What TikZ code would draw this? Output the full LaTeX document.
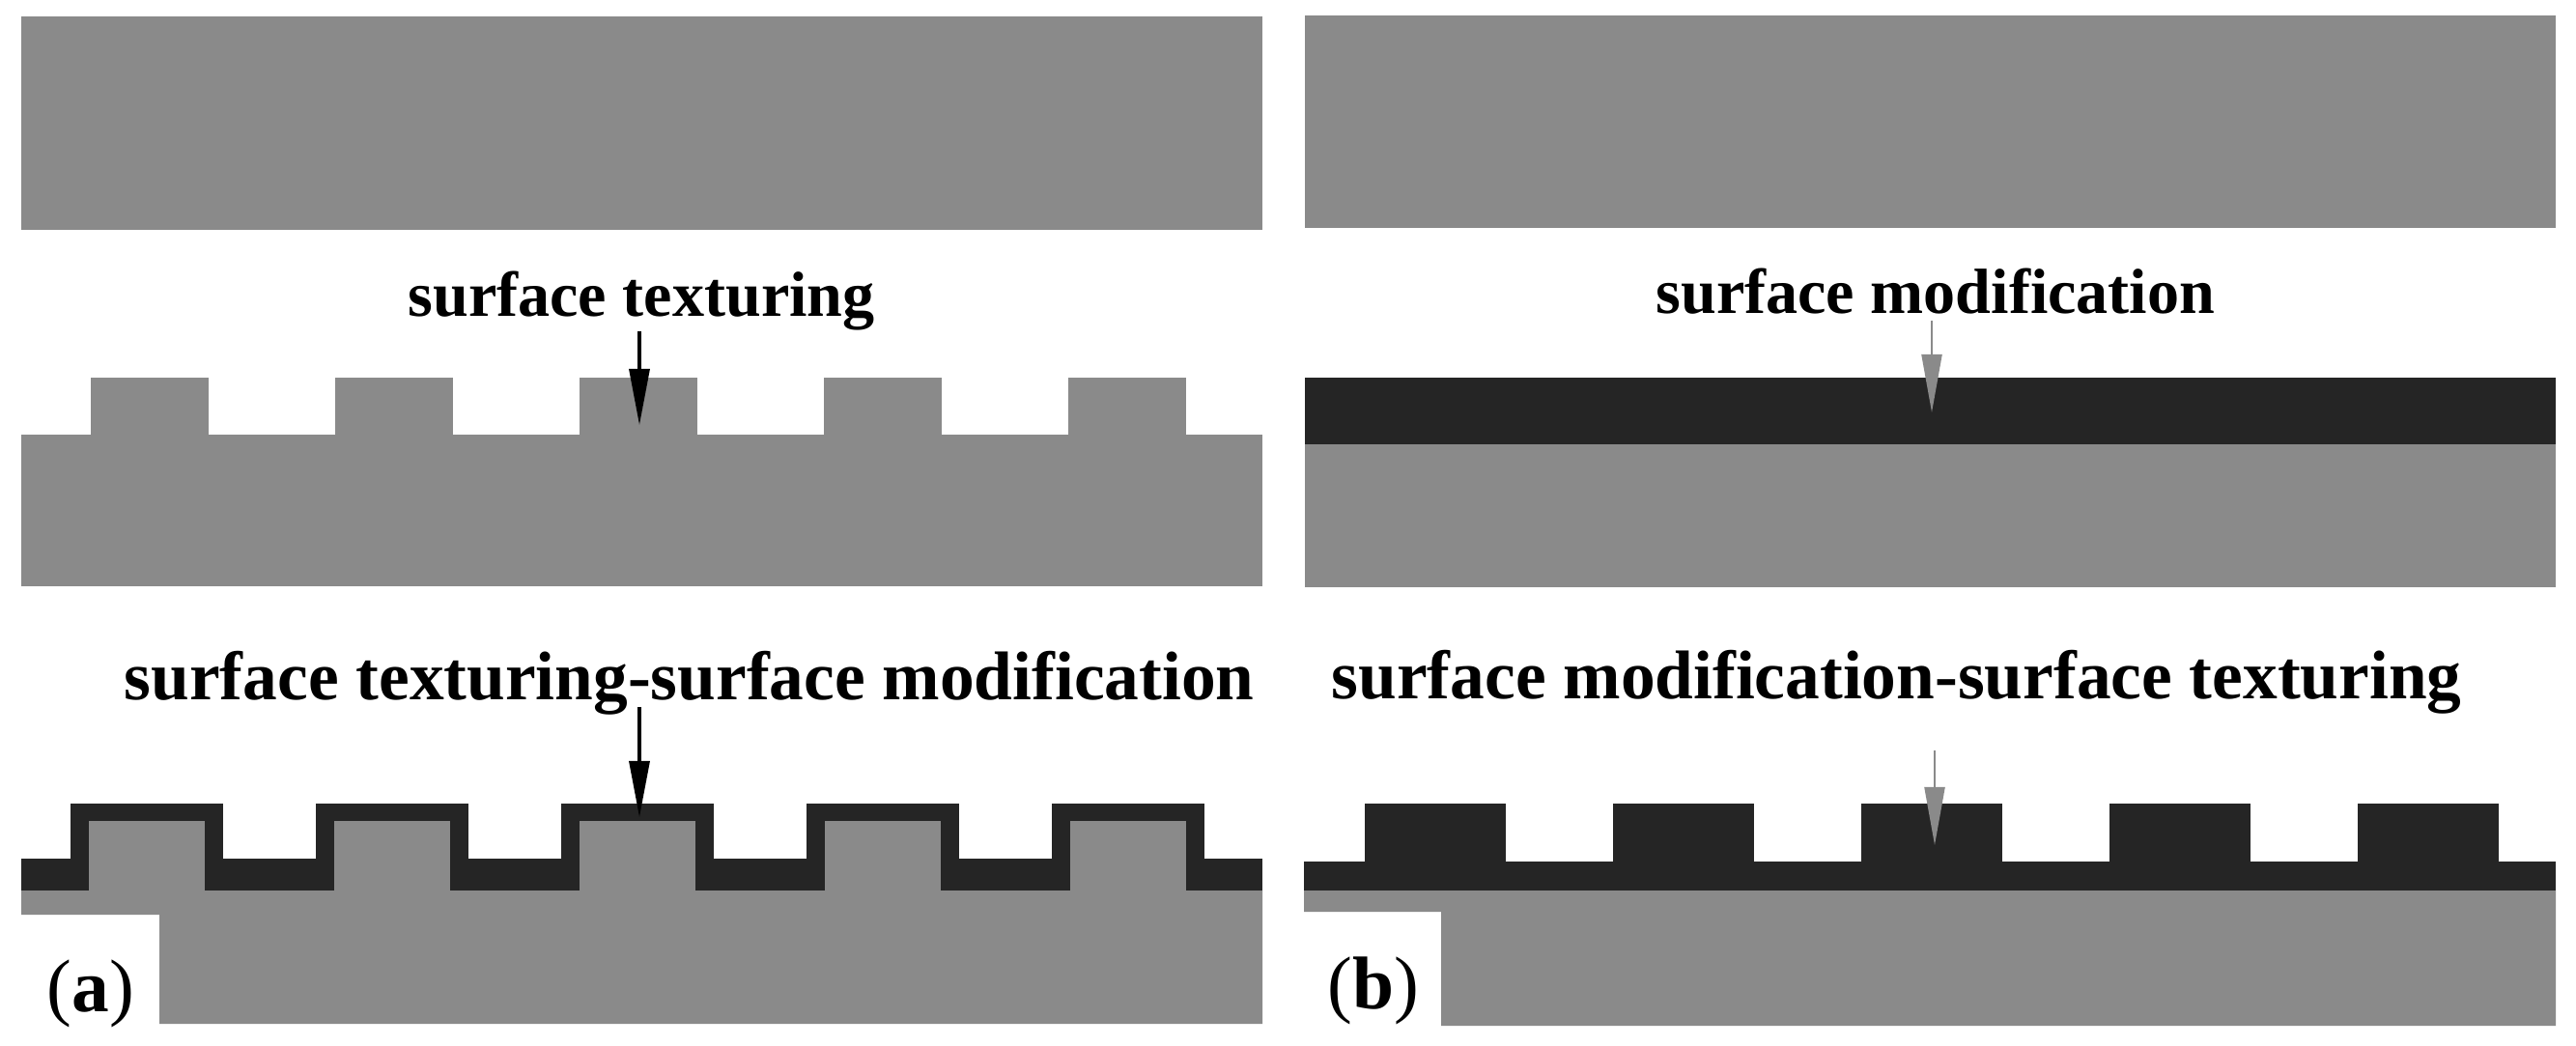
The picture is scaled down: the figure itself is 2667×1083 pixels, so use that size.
\documentclass[tikz,border=0pt]{standalone}
\usepackage{fontspec}
\setmainfont{Liberation Serif}
\usetikzlibrary{arrows.meta}
\definecolor{subgray}{HTML}{8A8A8A}
\definecolor{coatdark}{HTML}{252525}
\tikzset{
  subst/.style={fill=subgray, draw=none},
  coat/.style={fill=coatdark, draw=none},
  toplabel/.style={anchor=base west, inner sep=0pt, font=\fontsize{18.8}{22}\selectfont\bfseries},
  botlabel/.style={anchor=base west, inner sep=0pt, font=\fontsize{20.3}{24}\selectfont\bfseries},
  panellabel/.style={anchor=base west, inner sep=0pt, font=\fontsize{22}{26}\selectfont},
  blackarrow/.style={draw=black, line width=0.9pt, -{Triangle[length=5.8mm, width=2.1mm]}},
  grayarrow/.style={draw=subgray, line width=0.6pt, -{Triangle[length=6mm, width=2.1mm, fill=subgray]}}
}
\begin{document}
\begin{tikzpicture}[x=0.01cm, y=-0.01cm]
\useasboundingbox (0,0) rectangle (2667,1083);
% ---------- left panel ----------
% top block
\fill[subst] (22,17) rectangle (1307,238);
% middle: textured substrate
\fill[subst] (22,450) rectangle (1307,607);
\foreach \k in {0,...,4} {
  \fill[subst] ({94+253*\k},391) rectangle ({216+253*\k},451);
}
% bottom: textured + coated
\fill[coat] (22,889) rectangle (1307,922);
\foreach \k in {0,...,4} {
  \fill[coat] ({73+254*\k},832) rectangle ({231+254*\k},890);
  \fill[subst] ({92+254*\k},850) rectangle ({212+254*\k},923);
}
\fill[subst] (22,922) -- (1307,922) -- (1307,1060) -- (165,1060) -- (165,947) -- (22,947) -- cycle;
% labels
\node[toplabel] (lt) at (422,328) {surface texturing};
\node[botlabel] (lb) at (128,725) {surface texturing-surface modification};
\node[panellabel] (pa) at (48,1047) {(\textbf{a})};
% arrows
\coordinate (la1s) at (662,343);
\coordinate (la1e) at (662,440);
\coordinate (la2s) at (662,732);
\coordinate (la2e) at (662,846);
\draw[blackarrow] (la1s) -- (la1e);
\draw[blackarrow] (la2s) -- (la2e);
% ---------- right panel ----------
\fill[subst] (1351,16) rectangle (2646,236);
% middle: modified layer
\fill[coat] (1351,391) rectangle (2646,460);
\fill[subst] (1351,460) rectangle (2646,608);
% bottom: modified then textured
\fill[coat] (1350,892) rectangle (2646,922);
\foreach \k in {0,...,4} {
  \fill[coat] ({1413+257*\k},832) rectangle ({1559+257*\k},893);
}
\fill[subst] (1350,922) -- (2646,922) -- (2646,1062) -- (1492,1062) -- (1492,944) -- (1350,944) -- cycle;
% labels
\node[toplabel] (rt) at (1714,325) {surface modification};
\node[botlabel] (rb) at (1378,724) {surface modification-surface texturing};
\node[panellabel] (pb) at (1374,1044) {(\textbf{b})};
% arrows
\coordinate (ra1s) at (2000,332);
\coordinate (ra1e) at (2000,427);
\coordinate (ra2s) at (2003,777);
\coordinate (ra2e) at (2003,875);
\draw[grayarrow] (ra1s) -- (ra1e);
\draw[grayarrow] (ra2s) -- (ra2e);
\end{tikzpicture}
\end{document}
